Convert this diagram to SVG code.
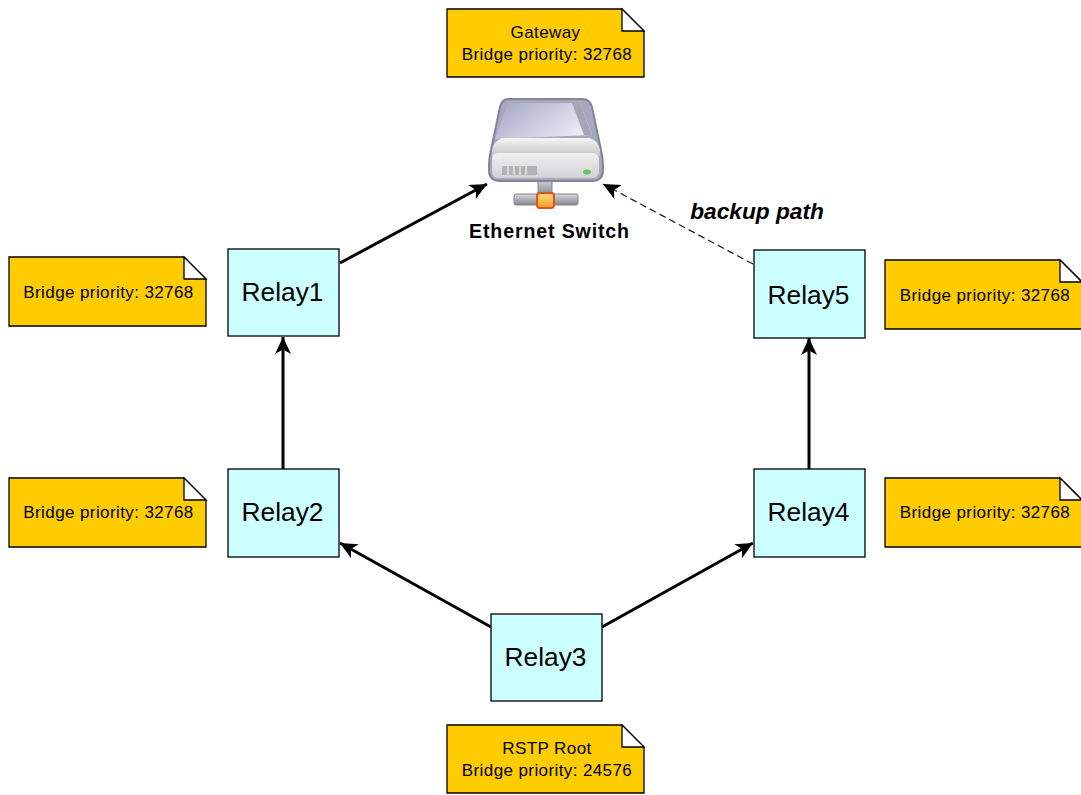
<svg xmlns="http://www.w3.org/2000/svg" width="1081" height="795" viewBox="0 0 1081 795">
<style>
text{font-family:"Liberation Sans",Arial,sans-serif;fill:#000;text-anchor:middle}
.relay rect{fill:#ccffff;stroke:#000;stroke-width:1.3}
.relay text{font-size:26.3px}
.note path{fill:#ffcc00;stroke:#000;stroke-width:1.3;stroke-linejoin:miter}
.note .fold{fill:#fff}
.note text{font-size:17px;letter-spacing:0.4px}
.c{fill:none;stroke:#000;stroke-width:3}
.d{fill:none;stroke:#222;stroke-width:1.3;stroke-dasharray:7 4}
</style>
<defs>
<marker id="arr" markerUnits="userSpaceOnUse" markerWidth="20" markerHeight="18" refX="17" refY="9" orient="auto"><path d="M0 1L17 9L0 17L4.5 9Z" fill="#000"/></marker>
<linearGradient id="top" x1="0" y1="0" x2="1" y2="0.5"><stop offset="0" stop-color="#a4a4c4"/><stop offset="1" stop-color="#e8e9f3"/></linearGradient>
<linearGradient id="band" x1="0" y1="0" x2="0" y2="1"><stop offset="0" stop-color="#f6f6f4"/><stop offset="1" stop-color="#c4c4c4"/></linearGradient>
<linearGradient id="face" x1="0" y1="0" x2="0" y2="1"><stop offset="0" stop-color="#f0f0f0"/><stop offset="1" stop-color="#d2d2d6"/></linearGradient>
<linearGradient id="bar" x1="0" y1="0" x2="0" y2="1"><stop offset="0" stop-color="#d8d8de"/><stop offset="1" stop-color="#85858f"/></linearGradient>
<linearGradient id="port" x1="0" y1="0" x2="0" y2="1"><stop offset="0" stop-color="#ffe08a"/><stop offset="1" stop-color="#f59a1e"/></linearGradient>
<filter id="soft" x="-5%" y="-5%" width="110%" height="110%"><feGaussianBlur stdDeviation="0.6"/></filter>
</defs>

<g id="connectors">
<path class="c" d="M340 263L487 184" marker-end="url(#arr)"/>
<path class="c" d="M283 469V337" marker-end="url(#arr)"/>
<path class="c" d="M491 627L340 543" marker-end="url(#arr)"/>
<path class="c" d="M602 627L753 543" marker-end="url(#arr)"/>
<path class="c" d="M809 469V338" marker-end="url(#arr)"/>
<path class="d" d="M753 264L603 184" marker-end="url(#arr)"/>
</g>

<g id="label-backup"><text x="757" y="219" font-size="22.7" font-weight="bold" font-style="italic">backup path</text></g>

<g id="switch">
<g filter="url(#soft)">
<rect x="538" y="178" width="14" height="18" fill="url(#bar)" stroke="#8a8a96"/>
<rect x="514" y="194" width="64" height="11" rx="2" fill="url(#bar)" stroke="#80808c"/>
<rect x="537" y="193" width="17" height="15" rx="3" fill="url(#port)" stroke="#e0521a" stroke-width="2"/>
<path d="M508 99H582Q590 99 592 107L601 150Q603 158 603 166V170Q603 181 592 181H500Q489 181 489 170V166Q489 158 491 150L500 107Q502 99 508 99Z" fill="#a8a8bc" stroke="#83839b" stroke-width="2"/>
<path d="M508 103H580L592 135L495 139Z" fill="url(#top)"/>
<path d="M572 103H580L592 135L584 135Z" fill="#a5a5b8"/>
<path d="M492 150Q494 141 502 138H590Q598 141 600 150V156H492Z" fill="url(#band)"/>
<rect x="492" y="153" width="107" height="25" rx="6" fill="url(#face)"/>
<rect x="502" y="166" width="35" height="9" fill="#b3b3b3"/>
<path d="M508 166V175M514 166V175M520 166V175M526 166V175" stroke="#e4e4e4" stroke-width="1.5"/>
<ellipse cx="587" cy="172" rx="4" ry="2.5" fill="#5fc46a"/>
</g>
<text x="549.5" y="238" font-size="19.6" font-weight="bold" letter-spacing="0.85">Ethernet Switch</text>
</g>

<g id="relay1" class="relay"><rect x="228" y="249" width="111" height="87"/><text x="282.5" y="301">Relay1</text></g>
<g id="relay2" class="relay"><rect x="228" y="469" width="111" height="88"/><text x="282.5" y="521">Relay2</text></g>
<g id="relay3" class="relay"><rect x="491" y="614" width="111" height="87"/><text x="545.5" y="666">Relay3</text></g>
<g id="relay4" class="relay"><rect x="754" y="469" width="111" height="88"/><text x="808.5" y="521">Relay4</text></g>
<g id="relay5" class="relay"><rect x="754" y="250" width="111" height="88"/><text x="808.5" y="304">Relay5</text></g>

<g id="note-gateway" class="note"><path d="M447 9H622L644 31V77H447Z"/><path class="fold" d="M622 9V31H644Z"/><text x="545.5" y="38">Gateway</text><text x="547" y="60">Bridge priority: 32768</text></g>
<g id="note-relay1" class="note"><path d="M9 257H184L206 279V326H9Z"/><path class="fold" d="M184 257V279H206Z"/><text x="108.5" y="298">Bridge priority: 32768</text></g>
<g id="note-relay2" class="note"><path d="M9 478H184L206 500V547H9Z"/><path class="fold" d="M184 478V500H206Z"/><text x="108.5" y="518">Bridge priority: 32768</text></g>
<g id="note-relay5" class="note"><path d="M885 260H1060L1082 282V329H885Z"/><path class="fold" d="M1060 260V282H1082Z"/><text x="985" y="301">Bridge priority: 32768</text></g>
<g id="note-relay4" class="note"><path d="M885 478H1060L1082 500V547H885Z"/><path class="fold" d="M1060 478V500H1082Z"/><text x="985" y="518">Bridge priority: 32768</text></g>
<g id="note-relay3" class="note"><path d="M447 725H622L644 747V793H447Z"/><path class="fold" d="M622 725V747H644Z"/><text x="547" y="754">RSTP Root</text><text x="547" y="776">Bridge priority: 24576</text></g>
</svg>
